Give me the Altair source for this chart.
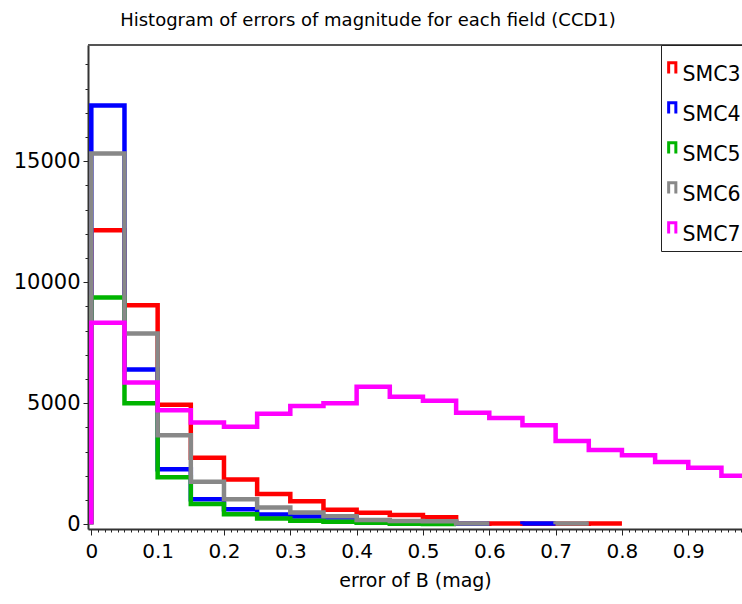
import altair as alt
import pandas as pd

# ---- data ----
bin_edges = [0.00, 0.05, 0.10, 0.15, 0.20, 0.25, 0.30, 0.35, 0.40, 0.45, 0.50,
             0.55, 0.60, 0.65, 0.70, 0.75, 0.80, 0.85, 0.90, 0.95, 1.00]
series_names = ["SMC3", "SMC4", "SMC5", "SMC6", "SMC7"]
series_colors = ["#ff0000", "#0000ff", "#00b400", "#888888", "#ff00ff"]

smc3 = [12150, 9050, 4930, 2740, 1850, 1250, 950, 600, 470, 380, 290, 20, 25, 20, 20, 25]
smc4 = [17300, 6390, 2270, 1030, 620, 400, 320, 275, 150, 100, 60, 20, None, 25]
smc5 = [9370, 5000, 1940, 830, 410, 235, 140, 100, 60, 20, 5]
smc6 = [15320, 7880, 3670, 1750, 1030, 690, 480, 330, 170, 130, 120, 30, None, None, 25]
smc7 = [8320, 5850, 4710, 4200, 4030, 4560, 4880, 5000, 5680, 5260, 5100, 4600,
        4390, 4090, 3440, 3060, 2850, 2570, 2330, 2000]

x_ticks = [i / 100 for i in range(0, 99)]
y_ticks = [i * 1000 for i in range(0, 20)]

# ---- build step-outline points (histogram outline) ----
rows = []
for name, counts in zip(series_names, [smc3, smc4, smc5, smc6, smc7]):
    seg, i, order = 0, 0, 0
    while i < len(counts):
        if counts[i] is None:
            i += 1
            continue
        j = i
        while j + 1 < len(counts) and counts[j + 1] is not None:
            j += 1
        key = f"{name}-{seg}"
        pts = [(bin_edges[i], 0)] + [(bin_edges[k], counts[k]) for k in range(i, j + 1)] \
              + [(bin_edges[j + 1], counts[j])]
        for xv, yv in pts:
            rows.append(dict(series=name, seg=key, x=xv, count=yv, order=order))
            order += 1
        seg += 1
        i = j + 1
df = pd.DataFrame(rows)

FONT = "DejaVu Sans"

color = alt.Color(
    "series:N",
    scale=alt.Scale(domain=series_names, range=series_colors),
    legend=alt.Legend(
        title=" ", titleFontSize=5, titlePadding=10,
        orient="none", legendX=573, legendY=0,
        strokeColor="#222222", fillColor="white", padding=5,
        symbolType="M-0.8,-0.4 L-0.8,-2.8 L0.8,-2.8 L0.8,-0.4",
        symbolSize=81, symbolStrokeWidth=3, symbolFillColor="transparent",
        symbolOffset=-4, labelOffset=0,
        labelFont=FONT, labelFontSize=20.5, labelColor="black",
        rowPadding=10,
    ),
)

x_enc = alt.X(
    "x:Q",
    scale=alt.Scale(domain=[-0.005, 0.981], nice=False, zero=False),
    axis=alt.Axis(
        values=x_ticks,
        labelExpr="round(datum.value*100) % 10 === 0 ? format(datum.value, '~g') : ''",
        tickSize={"condition": {"test": "round(datum.value*100) % 10 === 0", "value": 6}, "value": 3},
        title="error of B (mag)", grid=False,
        domainColor="#333333", domainWidth=2, tickColor="#222222", tickWidth=1,
        labelFont=FONT, labelFontSize=20, labelColor="black", labelPadding=6,
        titleFont=FONT, titleFontSize=19, titleFontWeight="normal", titleColor="black",
        titlePadding=10, labelFlush=False, labelOverlap=False,
    ),
)
y_enc = alt.Y(
    "count:Q",
    scale=alt.Scale(domain=[-200, 19800], nice=False, zero=False),
    axis=alt.Axis(
        values=y_ticks,
        labelExpr="datum.value % 5000 === 0 ? format(datum.value, 'd') : ''",
        tickSize={"condition": {"test": "datum.value % 5000 === 0", "value": 5}, "value": 3},
        title=None, grid=False,
        domainColor="#333333", domainWidth=2, tickColor="#222222", tickWidth=1,
        labelFont=FONT, labelFontSize=21, labelColor="black", labelPadding=3,
        labelFlush=False, labelOverlap=False,
    ),
)

layers = []
for name in series_names:
    layers.append(
        alt.Chart(df)
        .transform_filter(alt.datum.series == name)
        .mark_line(interpolate="step-after", strokeWidth=4.5, clip=True,
                   strokeJoin="miter", strokeCap="butt")
        .encode(x=x_enc, y=y_enc, color=color, detail="seg:N", order="order:Q")
    )

frame = (
    alt.Chart(pd.DataFrame({"k": [0]}))
    .mark_rule(color="#555555", strokeWidth=2)
    .encode(x=alt.value(0), x2=alt.value(654), y=alt.value(0))
)

chart = (
    alt.layer(*layers, frame)
    .properties(
        width=654, height=484,
        title=alt.TitleParams(
            "Histogram of errors of magnitude for each field (CCD1)",
            font=FONT, fontSize=18, fontWeight="normal", color="black",
            anchor="middle", dx=-47, offset=14,
        ),
        autosize=alt.AutoSizeParams(type="none"),
        padding={"left": 88, "top": 45, "right": 0, "bottom": 75},
    )
    .configure_view(stroke=None)
    .configure(background="white")
)

chart.save("out.html", embed_options={"renderer": "svg", "actions": False})
